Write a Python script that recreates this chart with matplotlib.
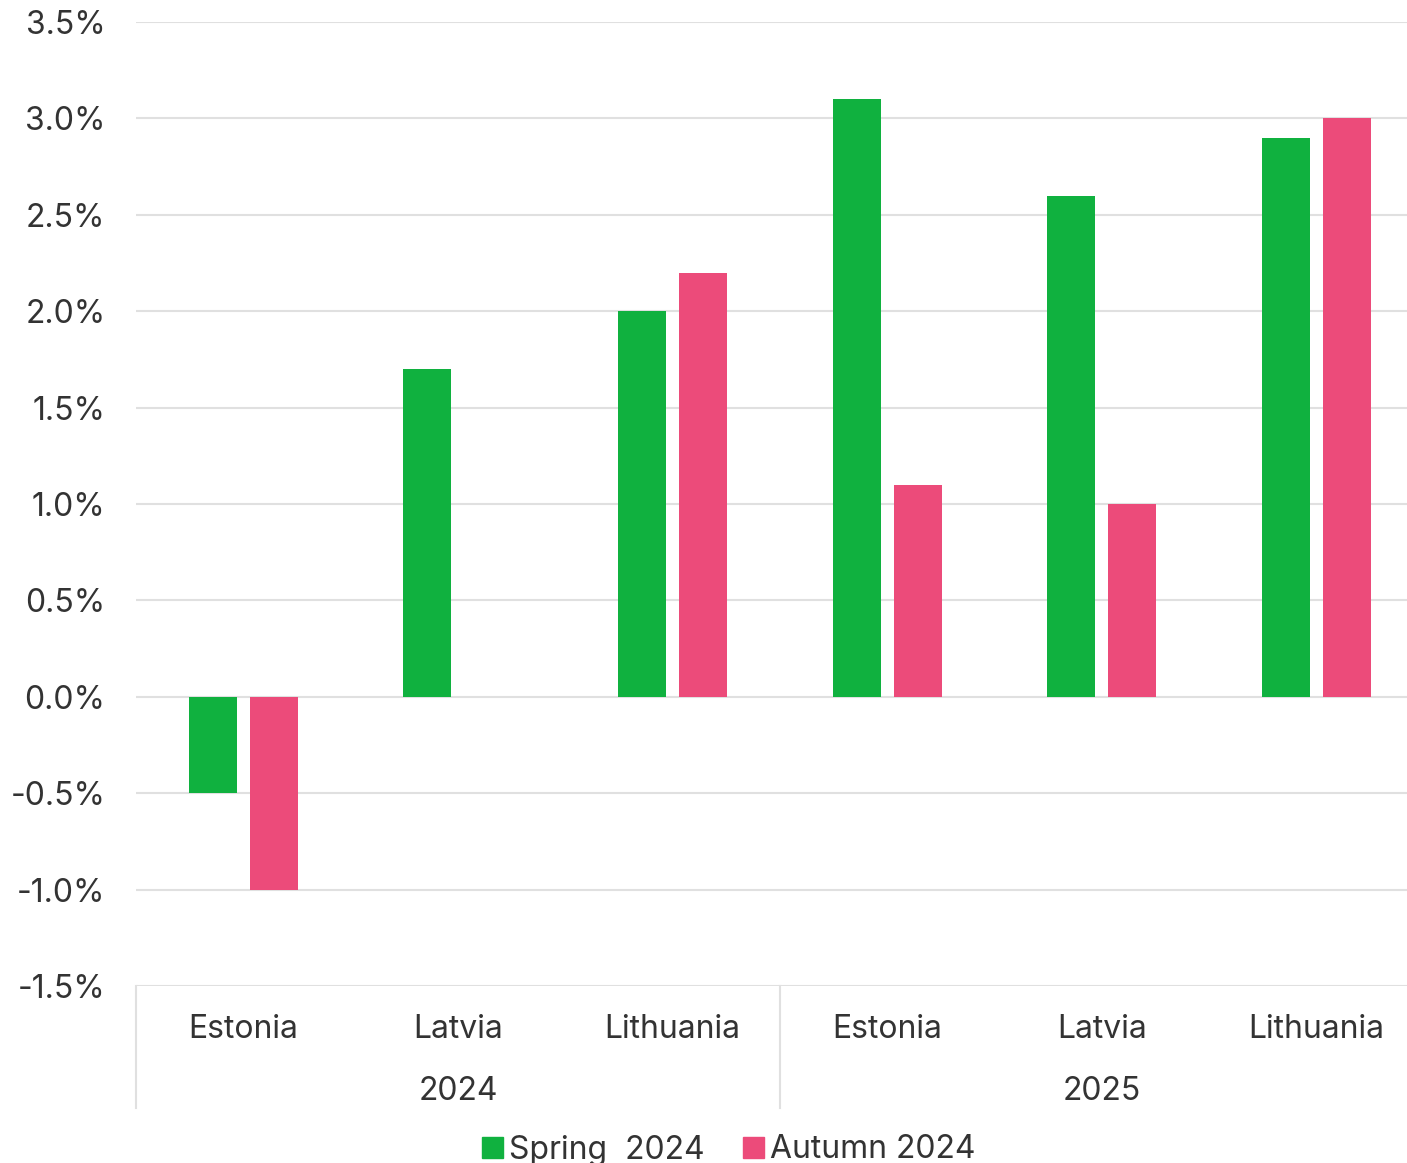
import numpy as np
import matplotlib.pyplot as plt
from matplotlib.patches import Patch
from matplotlib.transforms import blended_transform_factory

plt.rcParams['font.family'] = ['Inter', 'DejaVu Sans']

countries = ['Estonia', 'Latvia', 'Lithuania', 'Estonia', 'Latvia', 'Lithuania']
years = ['2024', '2025']
spring = [-0.5, 1.7, 2.0, 3.1, 2.6, 2.9]
autumn = [-1.0, np.nan, 2.2, 1.1, 1.0, 3.0]
series_names = ['Spring  2024', 'Autumn 2024']

green = '#10b13f'
pink = '#ec4b7a'
txt = '#333333'
gridc = '#e0e0e0'
fs = 23

W, H = 1407, 1163
fig = plt.figure(figsize=(W / 100, H / 100), dpi=100)
ax = fig.add_axes([136 / W, (H - 986) / H, (W - 136) / W, (986 - 22) / H])

x = np.arange(len(countries))
off = 0.142
bw = 0.224
ax.bar(x - off, spring, bw, color=green, zorder=3)
ax.bar(x + off, autumn, bw, color=pink, zorder=3)

ax.set_ylim(-1.5, 3.5)
ax.set_xlim(-0.5, -0.5 + (W - 136) / 214.6)
yt = np.arange(-1.5, 3.51, 0.5)
ax.set_yticks(yt)
ax.set_yticklabels([f'{v:.1f}%' for v in yt])
ax.grid(axis='y', color=gridc, linewidth=1.5, zorder=0)
ax.grid(axis='x', visible=False)
for s in ax.spines.values():
    s.set_visible(False)

ax.set_xticks(x)
ax.set_xticklabels(countries)
ax.tick_params(axis='both', length=0, labelsize=fs, colors=txt)
ax.tick_params(axis='y', pad=22)
ax.tick_params(axis='x', pad=20)

# group separators and year labels
tr = blended_transform_factory(ax.transData, ax.transAxes)
depth = (1108 - 986) / (986 - 22)
for xs in [-0.5, 2.5]:
    ax.plot([xs, xs], [0, -depth], transform=tr, color=gridc, linewidth=1.5, clip_on=False)
for i, yr in enumerate(years):
    ax.text(1 + 3 * i, -(1091 - 986) / (986 - 22), yr, transform=tr, ha='center', va='center',
            fontsize=fs, color=txt)

handles = [Patch(color=green), Patch(color=pink)]
fig.legend(handles, series_names, loc='center', bbox_to_anchor=(729 / W, 1 - 1150 / H), ncol=2,
           frameon=False, fontsize=fs, labelcolor=txt, handlelength=0.65, handleheight=0.65,
           handletextpad=0.2, columnspacing=1.2, borderpad=0)

fig.savefig('out.png', dpi=100)
